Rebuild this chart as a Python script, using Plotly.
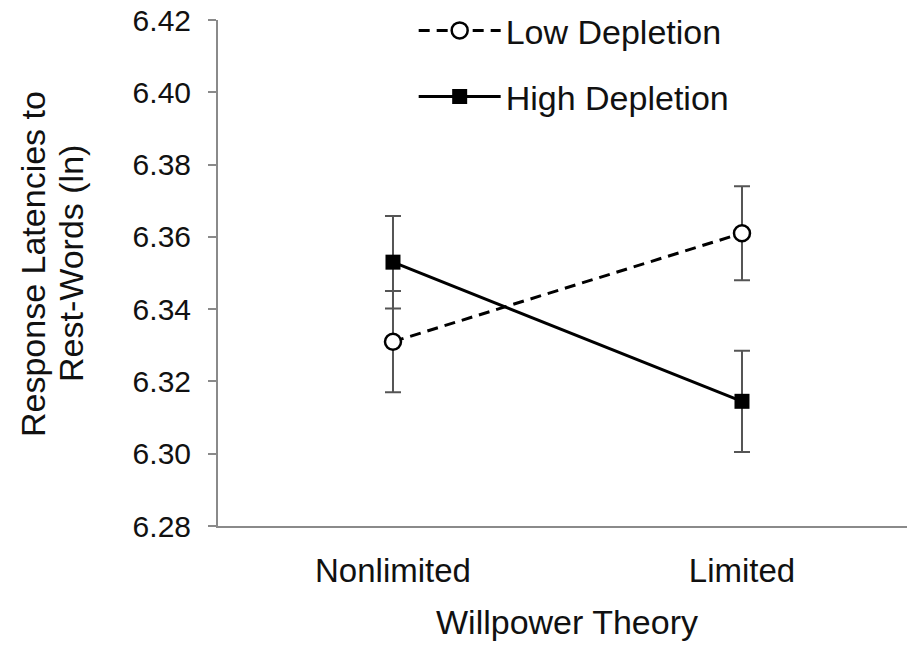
import plotly.graph_objects as go

categories = ["Nonlimited", "Limited"]
low_depletion = [6.331, 6.361]
low_err = [0.014, 0.013]
high_depletion = [6.353, 6.3145]
high_err = [0.0128, 0.014]
y_ticks = [6.28, 6.30, 6.32, 6.34, 6.36, 6.38, 6.40, 6.42]

FONT = "Liberation Sans, Arial, sans-serif"
TXT = "#111111"
AX = "#8a8a8a"

fig = go.Figure()
fig.add_trace(go.Scatter(
    x=categories, y=low_depletion, name="Low Depletion", mode="lines+markers",
    line=dict(color="black", width=3, dash="11px,7px"),
    marker=dict(symbol="circle", size=16, color="white", line=dict(color="black", width=2.5)),
    error_y=dict(type="data", array=low_err, color="#555555", thickness=2, width=8),
    legendgroup="a",
))
fig.add_trace(go.Scatter(
    x=categories, y=high_depletion, name="High Depletion", mode="lines+markers",
    line=dict(color="black", width=3),
    marker=dict(symbol="square", size=15, color="black", line=dict(color="black", width=0)),
    error_y=dict(type="data", array=high_err, color="#555555", thickness=2, width=8),
    legendgroup="b",
))

L, T, B, W, H = 218, 20, 120, 907, 646
ph = H - T - B

fig.update_layout(
    width=W, height=H,
    margin=dict(l=L, r=0, t=T, b=B),
    paper_bgcolor="white", plot_bgcolor="white",
    font=dict(family=FONT, color=TXT, size=34),
    showlegend=True,
    legend=dict(x=0.284, y=1.036, xanchor="left", yanchor="top",
                bgcolor="rgba(0,0,0,0)", itemwidth=82, tracegroupgap=19,
                traceorder="grouped", font=dict(size=34, color=TXT, family=FONT)),
    xaxis=dict(type="category", range=[-0.5014, 1.4728], showline=True, linecolor=AX,
               linewidth=2, showgrid=False, zeroline=False, ticks="outside", ticklen=14,
               tickcolor="rgba(0,0,0,0)", tickfont=dict(size=33, color=TXT, family=FONT)),
    yaxis=dict(range=[6.28, 6.42], tickvals=y_ticks, ticktext=[f"{v:.2f}" for v in y_ticks],
               showline=True, linecolor=AX, linewidth=2, showgrid=False, zeroline=False,
               ticks="outside", ticklen=8, tickwidth=2, tickcolor=AX,
               ticklabelstandoff=11,
               tickfont=dict(size=30, color=TXT, family=FONT)),
    annotations=[
        dict(text="Willpower Theory", xref="paper", yref="paper", x=(567 - L) / (W - L),
             y=-(622 - 526) / ph, xanchor="center", yanchor="middle", showarrow=False,
             font=dict(size=34, color=TXT, family=FONT)),
        dict(text="Response Latencies to", xref="paper", yref="paper", x=-(L - 33) / (W - L),
             y=(526 - 264) / ph, xanchor="center", yanchor="middle", showarrow=False,
             textangle=-90, font=dict(size=34, color=TXT, family=FONT)),
        dict(text="Rest-Words (ln)", xref="paper", yref="paper", x=-(L - 71) / (W - L),
             y=(526 - 264) / ph, xanchor="center", yanchor="middle", showarrow=False,
             textangle=-90, font=dict(size=34, color=TXT, family=FONT)),
    ],
)

fig.write_html("out.html")
